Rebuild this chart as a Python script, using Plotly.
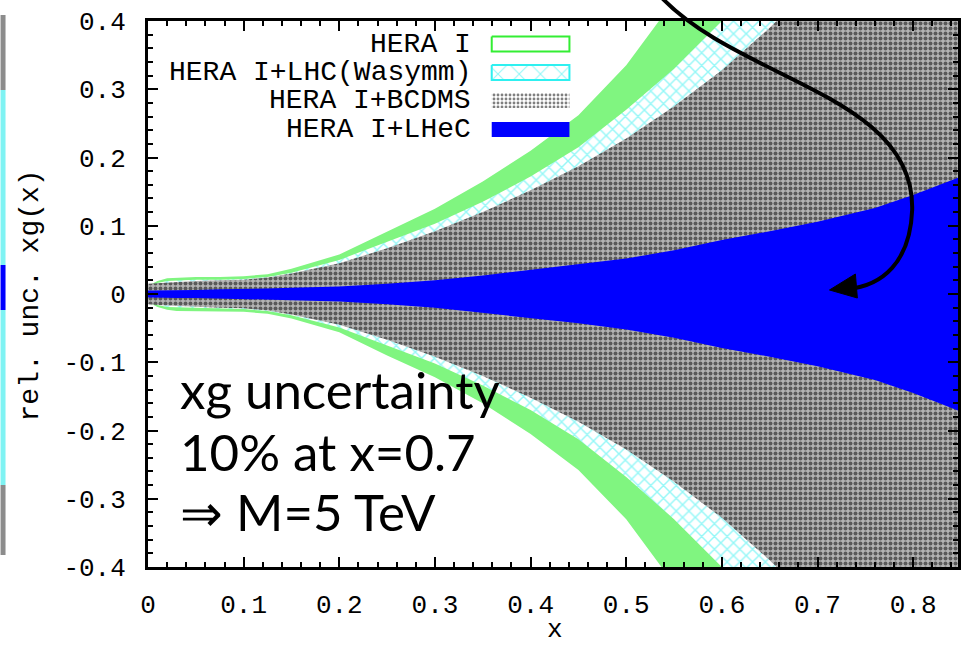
import plotly.graph_objects as go

# ---- band edges: relative uncertainty of xg(x) ----
x_grid = [0.0, 0.01, 0.02, 0.03, 0.05, 0.075, 0.1, 0.125, 0.15, 0.2, 0.25, 0.3,
          0.35, 0.4, 0.45, 0.5, 0.55, 0.6, 0.65, 0.7, 0.76, 0.8, 0.85, 0.9]

hera_up = [0.012, 0.019, 0.023, 0.024, 0.025, 0.025, 0.026, 0.029, 0.037, 0.058, 0.092, 0.125,
           0.165, 0.21, 0.262, 0.335, 0.43, 0.54, 0.66, 0.78, 0.92, 1.0, 1.1, 1.2]
hera_lo = [-0.012, -0.019, -0.023, -0.025, -0.026, -0.026, -0.026, -0.029, -0.036, -0.056, -0.09, -0.122,
           -0.16, -0.205, -0.258, -0.33, -0.425, -0.535, -0.65, -0.77, -0.91, -1.0, -1.1, -1.2]

lhc_up = [0.011, 0.016, 0.019, 0.020, 0.021, 0.021, 0.022, 0.025, 0.031, 0.050, 0.076, 0.103,
          0.135, 0.172, 0.215, 0.27, 0.33, 0.40, 0.48, 0.57, 0.68, 0.77, 0.88, 1.0]
lhc_lo = [-0.011, -0.016, -0.019, -0.020, -0.021, -0.021, -0.022, -0.025, -0.031, -0.049, -0.075, -0.102,
          -0.134, -0.17, -0.213, -0.268, -0.33, -0.40, -0.48, -0.57, -0.68, -0.77, -0.88, -1.0]

bcdms_up = [0.015, 0.016, 0.017, 0.018, 0.019, 0.020, 0.021, 0.024, 0.030, 0.045, 0.067, 0.092,
            0.12, 0.152, 0.187, 0.228, 0.275, 0.328, 0.39, 0.46, 0.555, 0.63, 0.73, 0.84]
bcdms_lo = [-0.015, -0.016, -0.017, -0.018, -0.019, -0.020, -0.021, -0.024, -0.030, -0.045, -0.067, -0.092,
            -0.12, -0.152, -0.187, -0.228, -0.275, -0.328, -0.39, -0.46, -0.555, -0.63, -0.73, -0.84]

lhec_up = [0.005, 0.005, 0.006, 0.006, 0.006, 0.007, 0.007, 0.008, 0.009, 0.011, 0.015, 0.020,
           0.027, 0.035, 0.043, 0.052, 0.064, 0.079, 0.092, 0.106, 0.126, 0.145, 0.172, 0.2]
lhec_lo = [-0.005, -0.005, -0.006, -0.006, -0.006, -0.007, -0.007, -0.008, -0.009, -0.011, -0.015, -0.020,
           -0.027, -0.035, -0.043, -0.052, -0.064, -0.079, -0.092, -0.106, -0.126, -0.145, -0.172, -0.2]

x_ticks = [0, 0.1, 0.2, 0.3, 0.4, 0.5, 0.6, 0.7, 0.8]
x_tick_text = ["0", "0.1", "0.2", "0.3", "0.4", "0.5", "0.6", "0.7", "0.8"]
y_ticks = [-0.4, -0.3, -0.2, -0.1, 0, 0.1, 0.2, 0.3, 0.4]
y_tick_text = ["-0.4", "-0.3", "-0.2", "-0.1", "0", "0.1", "0.2", "0.3", "0.4"]

legend_names = ["HERA I", "HERA I+LHC(Wasymm)", "HERA I+BCDMS", "HERA I+LHeC"]

# ---- styling ----
GREEN = "#80f580"
CYAN = "#2ef0f0"
BLUE = "#0000ff"
MONO = "Liberation Mono"
W, H = 961, 646
L, T, B = 148, 21, 567          # plot area edges in pixels
R = 961

cyan_pattern = dict(shape="x", fgcolor=CYAN, bgcolor="white", size=9, solidity=0.3)
dots_pattern = dict(shape=".", fgcolor="black", bgcolor="#b4b4b4", size=5, solidity=0.5)


def band(xs, up, lo):
    return xs + xs[::-1], up + lo[::-1]


fig = go.Figure()

bx, by = band(x_grid, hera_up, hera_lo)
fig.add_trace(go.Scatter(x=bx, y=by, fill="toself", fillcolor=GREEN, line=dict(width=0),
                         mode="lines", hoverinfo="skip", showlegend=False))
bx, by = band(x_grid, lhc_up, lhc_lo)
fig.add_trace(go.Scatter(x=bx, y=by, fill="toself", fillpattern=cyan_pattern, line=dict(width=0),
                         mode="lines", hoverinfo="skip", showlegend=False))
bx, by = band(x_grid, bcdms_up, bcdms_lo)
fig.add_trace(go.Scatter(x=bx, y=by, fill="toself", fillpattern=dots_pattern, line=dict(width=0),
                         mode="lines", hoverinfo="skip", showlegend=False))
bx, by = band(x_grid, lhec_up, lhec_lo)
fig.add_trace(go.Scatter(x=bx, y=by, fill="toself", fillcolor=BLUE, line=dict(width=0),
                         mode="lines", hoverinfo="skip", showlegend=False))

# ---- key, drawn on a pixel-scaled overlay axis ----
key_rows = [44, 72.5, 100.5, 129.5]
sw_x0, sw_x1, sw_h = 493, 571, 15
key_styles = [
    dict(fillcolor="white", line=dict(color="#33ee33", width=2)),
    dict(fillpattern=dict(shape="x", fgcolor=CYAN, bgcolor="white", size=15, solidity=0.15),
         line=dict(color=CYAN, width=2)),
    dict(fillpattern=dict(shape=".", fgcolor="black", bgcolor="white", size=4, solidity=0.4),
         line=dict(width=0)),
    dict(fillcolor=BLUE, line=dict(width=0)),
]
for yc, st in zip(key_rows, key_styles):
    fig.add_trace(go.Scatter(
        x=[sw_x0, sw_x1, sw_x1, sw_x0, sw_x0],
        y=[yc - sw_h / 2, yc - sw_h / 2, yc + sw_h / 2, yc + sw_h / 2, yc - sw_h / 2],
        fill="toself", mode="lines", hoverinfo="skip", showlegend=False,
        xaxis="x2", yaxis="y2", **st))

annotations = []
for yc, name in zip(key_rows, legend_names):
    annotations.append(dict(x=474, y=yc, xref="x2", yref="y2", text=name, showarrow=False,
                            xanchor="right", yanchor="middle",
                            font=dict(family=MONO, size=28, color="black")))


def px(xp):
    return (xp - L) / (R - L)


def py(yp):
    return (B - yp) / (B - T)


# axis titles
annotations.append(dict(x=px(30), y=py(295), xref="paper", yref="paper", text="rel. unc. xg(x)",
                        textangle=-90, showarrow=False, xanchor="center", yanchor="middle",
                        font=dict(family=MONO, size=28, color="black")))
annotations.append(dict(x=px(557), y=py(630), xref="paper", yref="paper", text="x",
                        showarrow=False, xanchor="center", yanchor="middle",
                        font=dict(family=MONO, size=26, color="black")))

# slide text
for text, base in [("xg uncertainty", 406), ("10% at x=0.7", 468), ("\u21d2 M=5 TeV", 528)]:
    annotations.append(dict(x=px(178), y=py(base - 17), xref="paper", yref="paper", text=text,
                            showarrow=False, xanchor="left", yanchor="middle",
                            font=dict(family="Lato", size=51, color="black")))

# curved arrow pointing into the LHeC band
def path_px(cmds):
    out = []
    for c in cmds:
        if isinstance(c, str):
            out.append(c)
        else:
            out.append(f"{px(c[0]):.5f},{py(c[1]):.5f}")
    return " ".join(out)


arrow_path = path_px(["M", (662, -4), "C", (740, 80), (918, 95), (915, 210),
                      "C", (913, 262), (885, 286), (850, 289)])
head_path = path_px(["M", (832, 290), "L", (858, 274), "L", (860, 298), "Z"])

shapes = [
    dict(type="path", path=arrow_path, xref="paper", yref="paper",
         line=dict(color="black", width=4)),
    dict(type="path", path=head_path, xref="paper", yref="paper",
         fillcolor="black", line=dict(color="black", width=1)),
]

# sliver of the neighbouring panel at the left edge
strip = [(15, 90, "#8c8c8c"), (90, 265, "#7ff3f3"), (265, 310, BLUE),
         (310, 485, "#7ff3f3"), (485, 555, "#8c8c8c")]
for y0, y1, col in strip:
    shapes.append(dict(type="rect", xref="paper", yref="paper", x0=px(0), x1=px(5),
                       y0=py(y1), y1=py(y0), fillcolor=col, line=dict(width=0), layer="above"))

axis_common = dict(showline=True, linewidth=3, linecolor="black", mirror="allticks",
                   ticks="inside", ticklen=10, tickwidth=2, tickcolor="black",
                   showgrid=False, zeroline=False,
                   tickfont=dict(family=MONO, size=26, color="black"))

fig.update_layout(
    width=W, height=H,
    margin=dict(l=L, r=W - R, t=T, b=H - B),
    paper_bgcolor="white", plot_bgcolor="white",
    showlegend=False,
    xaxis=dict(range=[0, (R - L) / 960.0], tickvals=x_ticks, ticktext=x_tick_text,
               minor=dict(dtick=0.02, tick0=0, ticks="inside", ticklen=5, tickwidth=2,
                          tickcolor="black"),
               ticklabelstandoff=12, **axis_common),
    yaxis=dict(range=[-0.4, 0.4], tickvals=y_ticks, ticktext=y_tick_text,
               minor=dict(dtick=0.02, tick0=0, ticks="inside", ticklen=5, tickwidth=2,
                          tickcolor="black"),
               ticklabelstandoff=14, **axis_common),
    xaxis2=dict(overlaying="x", range=[L, R], visible=False, fixedrange=True),
    yaxis2=dict(overlaying="y", range=[B, T], visible=False, fixedrange=True),
    annotations=annotations,
    shapes=shapes,
)

fig.write_html("out.html")
